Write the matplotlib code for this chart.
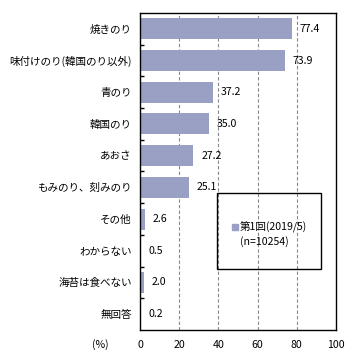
import matplotlib

matplotlib.use("Agg")
import matplotlib.pyplot as plt
from matplotlib.patches import Rectangle

plt.rcParams["font.family"] = ["Noto Sans CJK JP", "DejaVu Sans"]

categories = ["焼きのり", "味付けのり(韓国のり以外)", "青のり", "韓国のり", "あおさ",
              "もみのり、刻みのり", "その他", "わからない", "海苔は食べない", "無回答"]
values = [77.4, 73.9, 37.2, 35.0, 27.2, 25.1, 2.6, 0.5, 2.0, 0.2]
xticks = [0, 20, 40, 60, 80, 100]
legend_label = "第1回(2019/5)"
legend_n = "(n=10254)"

BAR = "#99a0c4"
FS = 7.6

fig = plt.figure(figsize=(3.61, 3.61), dpi=100)
ax = fig.add_axes([140 / 361, 31 / 361, 196 / 361, 317 / 361])

ypos = list(range(len(categories)))
ax.barh(ypos, values, height=0.66, color=BAR, zorder=2)
for y, v in zip(ypos, values):
    ax.text(v + 4, y, f"{v:.1f}", va="center", ha="left", fontsize=FS, zorder=3)

ax.set_xlim(0, 100)
ax.set_ylim(len(categories) - 0.5, -0.5)
ax.set_xticks(xticks)
ax.set_xticklabels([str(t) for t in xticks], fontsize=FS)
ax.set_yticks(ypos)
ax.set_yticklabels(categories, fontsize=FS)
ax.tick_params(axis="y", length=0, pad=6)
ax.tick_params(axis="x", length=0, pad=7)
# small inward ticks at category boundaries
ax.set_yticks([i + 0.5 for i in range(len(categories) - 1)], minor=True)
ax.tick_params(axis="y", which="minor", direction="in", length=3, width=1)
ax.tick_params(axis="y", which="major", left=False)

for t in xticks[1:-1]:
    ax.axvline(t, color="#888888", lw=0.8, ls=(0, (3, 2)), zorder=1)

for s in ax.spines.values():
    s.set_linewidth(1.0)
    s.set_color("black")

# legend box
ax.add_patch(Rectangle((39.3, 5.18), 53, 2.4, fill=False, ec="black", lw=1.0, zorder=4))
ax.plot([48.6], [6.25], marker="s", markersize=4, color=BAR, zorder=5)
ax.text(51, 6.25, legend_label, fontsize=FS, va="center", ha="left", zorder=5)
ax.text(51, 6.72, legend_n, fontsize=FS, va="center", ha="left", zorder=5)

fig.text(100 / 361, 1 - 345 / 361, "(%)", fontsize=FS, ha="center", va="center")

fig.savefig("out.png", dpi=100, facecolor="white")
